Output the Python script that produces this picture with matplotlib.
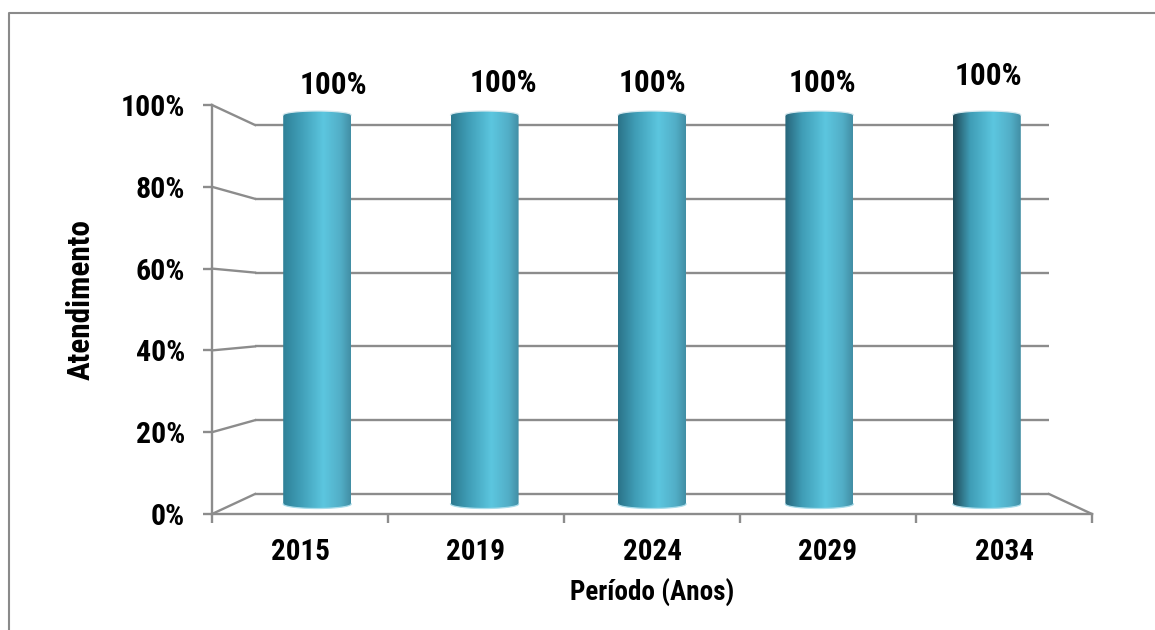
import matplotlib
matplotlib.use("Agg")
import numpy as np
import matplotlib.pyplot as plt
from matplotlib.colors import LinearSegmentedColormap
from matplotlib.patches import Polygon

plt.rcParams['font.family'] = ['Roboto Condensed', 'Liberation Sans', 'DejaVu Sans']

anos = ["2015", "2019", "2024", "2029", "2034"]
atendimento = [100, 100, 100, 100, 100]
yticks = [0, 20, 40, 60, 80, 100]
ylabels = ["0%", "20%", "40%", "60%", "80%", "100%"]

# deslocamento dos rotulos (pixels)
label_dx = [16, 19, 0, 3, 2]
label_dy = [30, 32, 32, 32, 39]

# cor esquerda de cada barra
left_cols = ["#2f8198", "#2c7a90", "#2b7389", "#27657a", "#1f4a58"]

W, H = 1155, 630
GREY = "#8c8c8c"
LW = 1.7

fig = plt.figure(figsize=(W / 100, H / 100), dpi=100)


def frame(x0, x1, ytop, ybot):
    a = fig.add_axes([x0 / W, 1 - ybot / H, (x1 - x0) / W, (ybot - ytop) / H])
    a.set_xlim(-0.5, 4.5)
    a.set_ylim(0, 100)
    a.patch.set_alpha(0)
    for s in a.spines.values():
        s.set_visible(False)
    a.set_xticks([])
    a.set_yticks([])
    return a


# parede do fundo, frente e plano medio (falso 3D)
back = frame(255, 1049, 125, 494)
front = frame(212, 1092, 105, 514)
mid = frame(233.5, 1070.5, 115, 504)
back.set_zorder(0)
front.set_zorder(1)
mid.set_zorder(2)

xpos = np.arange(len(anos))


def to_fig(ax, x, y):
    return fig.transFigure.inverted().transform(ax.transData.transform((x, y)))


# linhas de grade e ligacao frente-fundo
for v in yticks:
    back.plot([-0.5, 4.5], [v, v], color=GREY, lw=LW, solid_capstyle="butt", clip_on=False)
    p0, p1 = to_fig(front, -0.5, v), to_fig(back, -0.5, v)
    fig.add_artist(plt.Line2D([p0[0], p1[0]], [p0[1], p1[1]], color=GREY, lw=LW))
p0, p1 = to_fig(front, 4.5, 0), to_fig(back, 4.5, 0)
fig.add_artist(plt.Line2D([p0[0], p1[0]], [p0[1], p1[1]], color=GREY, lw=LW))

# eixos da frente
for side in ["left", "bottom"]:
    front.spines[side].set_visible(True)
    front.spines[side].set_color(GREY)
    front.spines[side].set_linewidth(LW)
front.set_yticks(yticks)
front.set_yticklabels(ylabels, fontsize=21.5, fontweight="bold")
front.set_xticks(np.arange(-0.5, 5, 1))
front.set_xticklabels([])
front.tick_params(axis="both", color=GREY, width=LW, length=6.5)
front.tick_params(axis="y", pad=13)

for x, a in zip(xpos, anos):
    front.annotate(a, (x, 0), xytext=(0, -38), textcoords="offset pixels", ha="center", va="center",
                   fontsize=21, fontweight="bold", annotation_clip=False)

fig.text(652 / W, 1 - 593 / H, "Período (Anos)", ha="center", va="center", fontsize=19.5, fontweight="bold")
fig.text(81 / W, 1 - 300 / H, "Atendimento", ha="center", va="center", rotation=90, fontsize=22.5, fontweight="bold")

# barras cilindricas com gradiente
bars = mid.bar(xpos, atendimento, width=68 / (837 / 5), color="none")
cap_top = 4 / 3.89
cap_bot = 4.5 / 3.89
t = np.linspace(0, np.pi, 40)
for rect, col, v, dx, dy in zip(bars, left_cols, atendimento, label_dx, label_dy):
    x0, w = rect.get_x(), rect.get_width()
    xc = x0 + w / 2
    top = rect.get_height()
    xs = xc - w / 2 * np.cos(t)
    outline = np.vstack([np.c_[xs, top + cap_top * np.sin(t)], np.c_[xs[::-1], -cap_bot * np.sin(t)]])
    shape = Polygon(outline, closed=True, fc="none", ec="none", clip_on=False)
    mid.add_patch(shape)
    cmap = LinearSegmentedColormap.from_list("cil", [(0, col), (0.25, "#3f9db6"), (0.6, "#5cc6df"),
                                                     (0.85, "#52aec7"), (1, "#428fa5")])
    im = mid.imshow(np.linspace(0, 1, 128).reshape(1, -1), cmap=cmap, aspect="auto",
                    extent=[x0, x0 + w, -cap_bot, top + cap_top], zorder=3)
    im.set_clip_box(fig.bbox)
    im.set_clip_path(shape)
    # borda clara em cima e embaixo do cilindro
    mid.plot(xs, top + cap_top * np.sin(t), color="#d5e8ee", lw=0.9, zorder=4, clip_on=False)
    mid.plot(xs, -cap_bot * np.sin(t), color="#a9dcea", lw=0.9, zorder=4, clip_on=False)
    mid.annotate(f"{v}%", (xc, top), xytext=(dx, dy), textcoords="offset pixels", ha="center", va="center",
                 fontsize=22.5, fontweight="bold", annotation_clip=False)
mid.set_xlim(-0.5, 4.5)
mid.set_ylim(0, 100)

# moldura externa
fig.add_artist(plt.Line2D([9 / W, 9 / W, 1], [0, 1 - 13 / H, 1 - 13 / H], color="#8a8a8a", lw=1.5))

fig.savefig("out.png", dpi=100)
